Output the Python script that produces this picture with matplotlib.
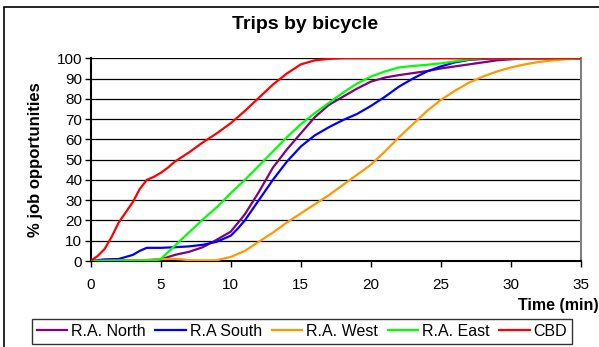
import numpy as np
import matplotlib.pyplot as plt
from matplotlib.patches import Rectangle

plt.rcParams['font.family'] = ['Liberation Sans', 'DejaVu Sans']

# Values (time in min, % job opportunities)
cbd_t = [0, 0.5, 1, 1.5, 2, 2.5, 3, 3.5, 4, 4.5, 5, 5.5, 6, 7, 8, 9, 10, 11, 12, 13, 14, 15, 16, 17, 18, 35]
cbd_y = [0, 2.5, 6, 12, 19, 24, 29, 35.5, 40, 41.5, 43.5, 46, 49, 53.5, 58.5, 63, 68, 74, 80.5, 87, 92.5, 97, 99, 99.7, 100, 100]

south_t = [0, 1, 2, 3, 3.5, 4, 5, 6, 7, 8, 9, 10, 10.5, 11, 12, 13, 14, 15, 16, 17, 18, 19, 20, 21, 22, 23, 24, 25, 26, 27, 28, 30, 35]
south_y = [0, 0.8, 1, 3, 5, 6.5, 6.5, 6.8, 7.2, 8, 9.5, 12.5, 16, 20, 30, 40, 49, 56.5, 62, 66, 69.5, 72.5, 76.5, 81, 86, 90, 93.5, 96, 98, 99.2, 99.7, 100, 100]

north_t = [0, 4, 5, 6, 7, 8, 9, 10, 11, 12, 13, 14, 15, 16, 17, 18, 19, 20, 21, 22, 23, 24, 25, 26, 27, 28, 29, 30, 31, 35]
north_y = [0, 0.5, 0.8, 3, 4.5, 6.8, 10.5, 14.5, 23, 34, 46, 55, 63, 71, 77, 81, 85, 88.5, 90.5, 91.7, 92.7, 93.7, 95, 96, 97, 98, 99, 99.5, 100, 100]

east_t = [0, 4.5, 5, 6, 7, 8, 9, 10, 11, 12, 13, 14, 15, 16, 17, 18, 19, 20, 21, 22, 23, 24, 25, 26, 27, 28, 35]
east_y = [0, 0.3, 1, 7.5, 14, 20.5, 26.5, 33.5, 40, 47, 54, 61, 67.5, 73, 78, 83, 87.5, 91, 93.5, 95.5, 96.2, 96.8, 97.5, 98.5, 99.4, 100, 100]

west_t = [0, 4.5, 5, 5.5, 6, 6.5, 7, 8, 9, 10, 11, 12, 13, 14, 15, 16, 17, 18, 19, 20, 21, 22, 23, 24, 25, 26, 27, 28, 29, 30, 31, 32, 33, 34, 35]
west_y = [0, 0.5, 0.9, 1, 1, 0.8, 0.4, 0.3, 0.4, 2, 5, 9.5, 14, 19, 23.5, 28, 32.5, 37.5, 42.5, 47.5, 54, 61, 67.5, 74, 79.5, 84, 88, 91, 93.5, 95.5, 97, 98.2, 99, 99.6, 100]

series = [
    ('R.A. North', north_t, north_y, '#800080'),
    ('R.A South', south_t, south_y, '#0000ff'),
    ('R.A. West', west_t, west_y, '#ff9900'),
    ('R.A. East', east_t, east_y, '#00ff00'),
    ('CBD', cbd_t, cbd_y, '#ff0000'),
]

fig = plt.figure(figsize=(5.99, 3.47), dpi=100, facecolor='white')
ax = fig.add_axes([0.1514, 0.2478, 0.8186, 0.5842])

for y in range(10, 101, 10):
    ax.axhline(y, color='black', lw=0.9, zorder=1)

handles = []
for name, t, y, c in series:
    h, = ax.plot(t, y, color=c, lw=1.6, label=name, zorder=3)
    handles.append(h)

ax.set_xlim(0, 35)
ax.set_ylim(0, 100)
ax.set_xticks(range(0, 36, 5))
ax.set_yticks(range(0, 101, 10))
ax.tick_params(labelsize=11, length=4, width=1, pad=8, direction='out')
ax.tick_params(axis='y', pad=2)
for s in ['left', 'bottom']:
    ax.spines[s].set_linewidth(1.5)
ax.spines['top'].set_visible(False)
ax.spines['right'].set_color('#808080')
ax.spines['right'].set_linewidth(1.5)

fig.text(0.509, 0.928, 'Trips by bicycle', ha='center', va='center',
         fontsize=14, fontweight='bold')
fig.text(0.060, 0.54, '% job opportunities', ha='center', va='center',
         rotation=90, fontsize=12, fontweight='bold')
fig.text(0.999, 0.121, 'Time (min)', ha='right', va='center',
         fontsize=11.5, fontweight='bold')

# outer chart frame, running off the right and bottom edges
fig.patches.append(Rectangle((0.0075, -0.1), 1.1, 1.08,
                             transform=fig.transFigure, fill=False,
                             edgecolor='black', lw=1.2))

leg = fig.legend(handles=handles, loc='upper left',
                 bbox_to_anchor=(0.0534, 0, 0.9015, 0.0807), mode='expand',
                 ncol=5, fontsize=11.5, frameon=True, fancybox=False,
                 handlelength=1.9, handletextpad=0.25, columnspacing=0.5,
                 borderpad=0.3, borderaxespad=0)
leg.get_frame().set_edgecolor('black')
leg.get_frame().set_linewidth(1)

fig.savefig('out.png', dpi=100, facecolor='white')
